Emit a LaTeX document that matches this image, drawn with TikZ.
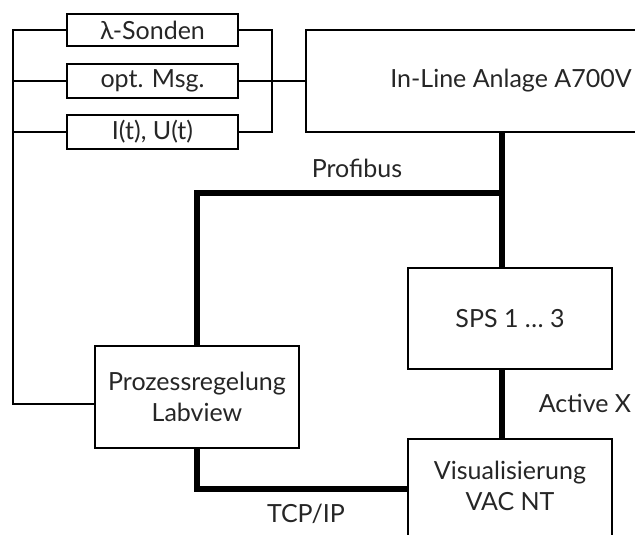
\documentclass[tikz,border=0pt]{standalone}
\usepackage{fontspec}
\setmainfont{Lato}
\usetikzlibrary{calc}
\begin{document}
\begin{tikzpicture}[x=1pt,y=-1pt,
  box/.style={draw=black, line width=2pt, rectangle, inner sep=0pt, align=center,
              font=\fontsize{25}{31}\selectfont, text=black!85},
  lbl/.style={inner sep=0pt, align=center, font=\fontsize{25}{31}\selectfont, text=black!85},
  wire/.style={draw=black, line width=2pt},
  bus/.style={draw=black, line width=5.5pt}]
\useasboundingbox (0,0) rectangle (635,535);

% measurement channels
\node[box, minimum width=171, minimum height=32] (lam) at (152.5,30) {λ-Sonden};
\node[box, minimum width=171, minimum height=34] (opt) at (152.5,81) {opt. Msg.};
\node[box, minimum width=171, minimum height=34] (iu)  at (152.5,132) {I(t), U(t)};

% plant, PLC, control, visualisation
\node[box, minimum width=410, minimum height=102] (a700) at (511,81) {In-Line Anlage A700V};
\node[box, minimum width=204, minimum height=101] (sps) at (510,318.5) {SPS 1 \dots{} 3};
\node[box, minimum width=204, minimum height=102] (proz) at (197,397) {Prozessregelung\\Labview};
\node[box, anchor=north, minimum width=204, minimum height=140] (vis) at (510,438) {};
\node[lbl] (vistext) at (510,486) {Visualisierung\\VAC NT};

% bus labels
\node[lbl] (lprofi) at (357,168) {Profibus};
\node[lbl] (lactx) at (585,403) {Active X};
\node[lbl] (ltcp) at (306,514) {TCP/IP};

% routing points
\coordinate (lbus) at (13,30);
\coordinate (rbus) at (272,30);
\coordinate (pb) at (502,193);
\coordinate (tcp) at (0,489);
\coordinate (lbot) at (13,404);

% thin wiring of the measurement channels
\draw[wire] (lam.west) -- (lam.west -| lbus) -- (lbot) -- (proz.west |- lbot);
\draw[wire] (opt.west) -- (opt.west -| lbus);
\draw[wire] (iu.west) -- (iu.west -| lbus);
\draw[wire] (lam.east) -- (lam.east -| rbus) -- (iu.east -| rbus) -- (iu.east);
\draw[wire] (opt.east) -- (a700.west);

% field buses
\draw[bus] (a700.south -| pb) -- (sps.north -| pb);
\draw[bus, line join=miter] (pb) -| (proz.north);
\draw[bus] (sps.south -| pb) -- (vis.north -| pb);
\draw[bus, line join=miter] (proz.south) |- (vis.west |- tcp);
\end{tikzpicture}
\end{document}
